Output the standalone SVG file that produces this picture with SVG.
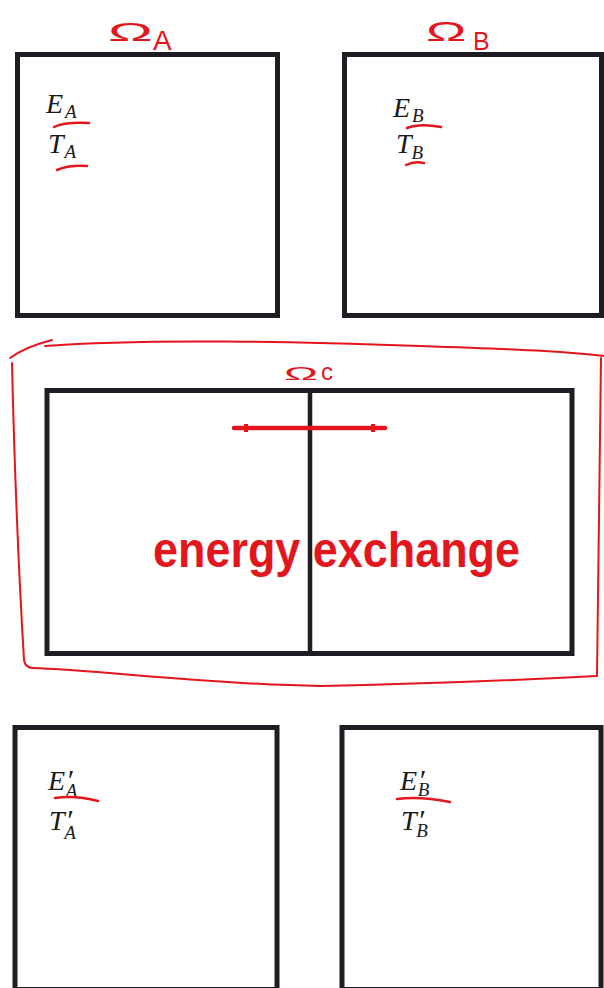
<svg xmlns="http://www.w3.org/2000/svg" width="604" height="988" viewBox="0 0 604 988">
<style>
.box{fill:none;stroke:#1d1d23;stroke-width:5}
.red{fill:none;stroke:#e3161d;stroke-linecap:round;stroke-linejoin:round}
.m{font-family:"Liberation Serif","Times New Roman",serif;font-style:italic;fill:#1a1a1a;font-size:28px}
.s{font-size:19px}
.p{font-size:30px}
.om{font-family:"Liberation Sans",Arial,sans-serif;fill:#e3161d}
.lbl{font-family:"Liberation Sans",Arial,sans-serif;font-weight:bold;font-size:50px;fill:#e3161d}
</style>
<rect width="604" height="988" fill="#ffffff"/>

<g id="omegaC-frame">
  <path class="red" stroke-width="2" d="M10,358 Q25,347 52,340"/>
  <path class="red" stroke-width="2" d="M45,346 C150,338 300,342 420,346 S570,352 604,356"/>
  <path class="red" stroke-width="2" d="M601,358 C600,450 599,560 597,676"/>
  <path class="red" stroke-width="2" d="M597,676 C520,680 430,684 320,686 C200,684 100,670 32,668"/>
  <path class="red" stroke-width="2" d="M12,363 C14,450 18,560 24,660 Q25,667 32,668"/>
  <text class="om" font-size="24" transform="translate(284,380) scale(1.9,0.75)">Ω</text>
  <text class="om" font-size="24" x="321" y="380">c</text>
</g>

<g id="boxA">
  <rect class="box" x="17.5" y="54.5" width="260" height="261"/>
  <text class="om" font-size="30" transform="translate(108,41) scale(2,0.85)">Ω</text>
  <text class="om" font-size="28" x="153" y="50">A</text>
  <text class="m" x="46" y="113">E<tspan class="s" dx="2" dy="5">A</tspan></text>
  <text class="m" x="48" y="153">T<tspan class="s" dx="1" dy="5">A</tspan></text>
  <path class="red" stroke-width="2.5" d="M54,127 Q64,122 89,123"/>
  <path class="red" stroke-width="2.5" d="M57,170 Q68,165 87,166"/>
</g>

<g id="boxB">
  <rect class="box" x="344.5" y="54.5" width="257" height="261"/>
  <text class="om" font-size="30" transform="translate(426,41) scale(1.8,0.95)">Ω</text>
  <text class="om" font-size="25" x="473" y="50">B</text>
  <text class="m" x="393" y="117">E<tspan class="s" dx="2" dy="5">B</tspan></text>
  <text class="m" x="396" y="153">T<tspan class="s" dx="0" dy="6">B</tspan></text>
  <path class="red" stroke-width="2.5" d="M407,128 Q420,123 441,127"/>
  <path class="red" stroke-width="2.5" d="M406,165 Q414,161 424,163"/>
</g>

<g id="boxC">
  <rect class="box" x="47" y="390.5" width="525" height="263"/>
  <line x1="310" y1="390" x2="310" y2="654" stroke="#1d1d23" stroke-width="4.5"/>
  <text class="lbl" x="153" y="567" textLength="367" lengthAdjust="spacingAndGlyphs">energy exchange</text>
</g>

<g id="boxA2">
  <rect class="box" x="15" y="727.5" width="262" height="262"/>
  <text class="m" x="48" y="790">E<tspan class="p" dx="1">′</tspan><tspan class="s" dx="-7" dy="7">A</tspan></text>
  <text class="m" x="49" y="830">T<tspan class="p" dx="1">′</tspan><tspan class="s" dx="-8" dy="9">A</tspan></text>
  <path class="red" stroke-width="2.5" d="M55,798 Q75,795 98,801"/>
</g>

<g id="boxB2">
  <rect class="box" x="342" y="727.5" width="259" height="262"/>
  <text class="m" x="400" y="790">E<tspan class="p" dx="1">′</tspan><tspan class="s" dx="-7" dy="6">B</tspan></text>
  <text class="m" x="401" y="830">T<tspan class="p" dx="1">′</tspan><tspan class="s" dx="-8" dy="7">B</tspan></text>
  <path class="red" stroke-width="2.5" d="M397,799 Q420,796 450,802"/>
</g>

<g id="connectors">
  <line x1="234" y1="428" x2="385" y2="428" stroke="#e3161d" stroke-width="4.5" stroke-linecap="round"/>
  <line x1="246" y1="424" x2="246" y2="432" stroke="#e3161d" stroke-width="4"/>
  <line x1="373" y1="424" x2="373" y2="432" stroke="#e3161d" stroke-width="4"/>
</g>
</svg>
